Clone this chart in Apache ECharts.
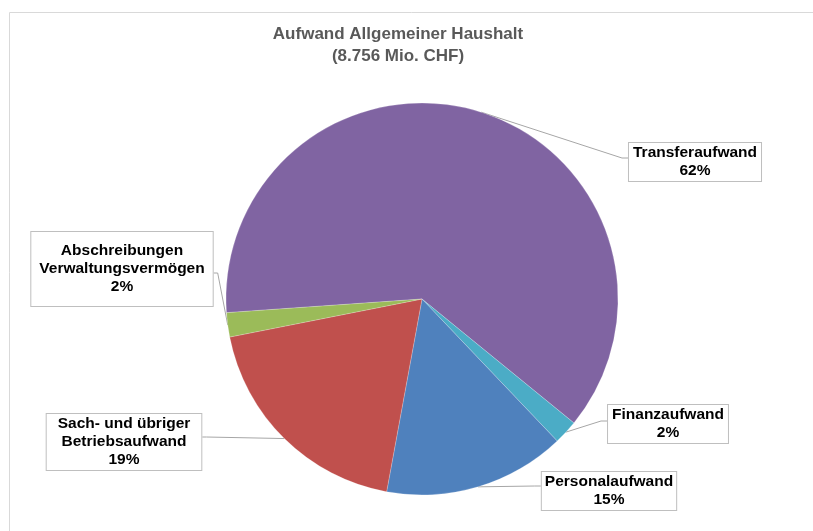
<!DOCTYPE html>
<html>
<head>
<meta charset="utf-8">
<script src="https://cdn.jsdelivr.net/npm/echarts@6/dist/echarts.min.js"></script>
<style>
  html, body { margin: 0; padding: 0; background: #fff; }
  #main { width: 813px; height: 531px; }
</style>
</head>
<body>
<div id="main"></div>
<script>
// data (shares in %)
var categories = ['Transferaufwand', 'Finanzaufwand', 'Personalaufwand', 'Sach- und übriger\nBetriebsaufwand', 'Abschreibungen\nVerwaltungsvermögen'];
var shares = [62, 2, 15, 19, 2];
var colors = ['#8064A2', '#4BACC6', '#4F81BD', '#C0504D', '#9BBB59'];

// where each label box sits (center), its padding and the y where the leader line meets it
var labelCenters = [[695, 162], [668, 424], [609, 491], [124, 442], [122, 269]];
var labelPads = [[1, 4], [1, 4], [1, 3], [1, 11], [10, 8]];
var lineYOffsets = [-4, -3, -5, -5, 4];

var cx = 422, cy = 299;

var chartDom = document.getElementById('main');
var myChart = echarts.init(chartDom);
var option;

option = {
    animation: false,
    graphic: [
        {
            type: 'rect',
            shape: { x: 9.5, y: 12.5, width: 820, height: 540 },
            style: { fill: 'none', stroke: '#d9d9d9', lineWidth: 1 },
            silent: true
        },
        {
            type: 'text',
            style: {
                text: 'Aufwand Allgemeiner Haushalt\n(8.756 Mio. CHF)',
                x: 398,
                y: 23,
                align: 'center',
                verticalAlign: 'top',
                fill: '#595959',
                font: 'bold 17px "Liberation Sans", Arial, sans-serif',
                lineHeight: 22
            }
        }
    ],
    series: [
        {
            type: 'pie',
            center: [cx, cy],
            radius: ['0%', 196],
            startAngle: 184,
            clockwise: true,
            avoidLabelOverlap: false,
            itemStyle: { borderColor: 'rgba(255,255,255,0.4)', borderWidth: 0.5 },
            label: {
                show: true,
                position: 'outside',
                formatter: '{b}\n{d}%',
                color: '#000',
                fontFamily: '"Liberation Sans", Arial, sans-serif',
                fontWeight: 'bold',
                fontSize: 15.5,
                lineHeight: 18,
                align: 'center',
                backgroundColor: '#fff',
                borderColor: '#bfbfbf',
                borderWidth: 1
            },
            labelLine: {
                show: true,
                length: 10,
                length2: 10,
                lineStyle: { color: '#a6a6a6', width: 1 }
            },
            labelLayout: function (params) {
                var i = params.dataIndex;
                var c = labelCenters[i];
                var w = params.labelRect.width;
                var start = params.labelLinePoints ? params.labelLinePoints[0] : [cx, cy];
                var right = c[0] > cx;
                var edgeX = right ? c[0] - w / 2 : c[0] + w / 2;
                var elbowX = right ? edgeX - 6 : edgeX + 4;
                var midY = c[1] + lineYOffsets[i];
                return {
                    x: c[0],
                    y: c[1],
                    align: 'center',
                    verticalAlign: 'middle',
                    labelLinePoints: [start, [elbowX, midY], [edgeX, midY]]
                };
            },
            data: categories.map(function (name, i) {
                return {
                    name: name,
                    value: shares[i],
                    itemStyle: { color: colors[i] },
                    label: { padding: labelPads[i] }
                };
            })
        }
    ]
};
option && myChart.setOption(option);
</script>
</body>
</html>
